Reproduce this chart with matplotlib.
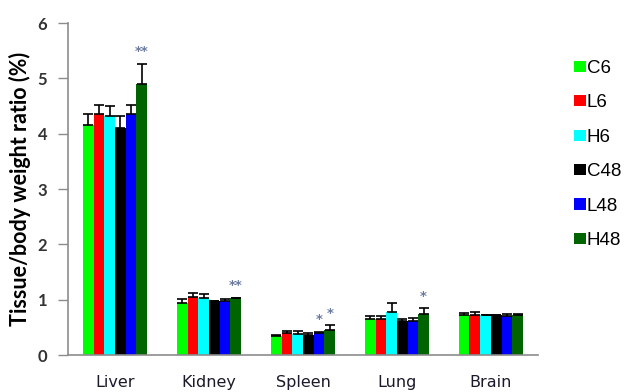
import numpy as np
import matplotlib
matplotlib.use("Agg")
import matplotlib.pyplot as plt
from matplotlib.patches import Patch

tissues = ["Liver", "Kidney", "Spleen", "Lung", "Brain"]
groups = ["C6", "L6", "H6", "C48", "L48", "H48"]
colors = ["#00ff00", "#ff0000", "#00ffff", "#000000", "#0000ff", "#006400"]

# mean tissue/body weight ratio (%) per group, one value per tissue
c6 = [4.16, 0.95, 0.35, 0.66, 0.73]
l6 = [4.35, 1.05, 0.40, 0.66, 0.73]
h6 = [4.33, 1.03, 0.38, 0.78, 0.72]
c48 = [4.10, 0.97, 0.36, 0.62, 0.72]
l48 = [4.35, 0.98, 0.40, 0.62, 0.71]
h48 = [4.90, 1.03, 0.45, 0.75, 0.73]

# standard deviations (upper bars only)
c6_sd = [0.20, 0.06, 0.02, 0.04, 0.04]
l6_sd = [0.17, 0.07, 0.03, 0.04, 0.05]
h6_sd = [0.17, 0.07, 0.06, 0.17, 0.01]
c48_sd = [0.23, 0.01, 0.04, 0.04, 0.01]
l48_sd = [0.17, 0.03, 0.02, 0.05, 0.03]
h48_sd = [0.37, 0.01, 0.09, 0.10, 0.02]

means = [c6, l6, h6, c48, l48, h48]
sds = [c6_sd, l6_sd, h6_sd, c48_sd, l48_sd, h48_sd]

# significance marks: (tissue index, group index, text)
stars = [(0, 5, "**"), (1, 5, "**"), (2, 4, "*"), (2, 5, "*"), (3, 5, "*")]

fig = plt.figure(figsize=(6.24, 3.92), dpi=100)
ax = fig.add_axes([0.109, 0.094, 0.753, 0.847])

x = np.arange(len(tissues))
w = 0.114
offsets = (np.arange(len(groups)) - 2.5) * w

for i, g in enumerate(groups):
    m = np.array(means[i])
    sd = np.array(sds[i])
    ax.bar(x + offsets[i], m, width=w, color=colors[i], label=g, zorder=2)
    ax.errorbar(x + offsets[i], m, yerr=[np.zeros_like(sd), sd], fmt="none",
                ecolor="black", elinewidth=1.2, capsize=3.5, capthick=1.2, zorder=3)

for t, g, s in stars:
    top = means[g][t] + sds[g][t]
    ax.text(x[t] + offsets[g], top + 0.1, s, ha="center", va="bottom",
            fontsize=9.5, fontweight="bold", color="#6a7ba0", family="DejaVu Sans")

ax.set_xlim(-0.5, len(tissues) - 0.5)
ax.set_ylim(0, 6)
ax.set_yticks(range(0, 7))
ax.set_xticks(x)
ax.set_xticklabels(tissues, fontsize=11.5, family="DejaVu Sans", color="#1a1a2a")
ax.tick_params(axis="x", length=0, pad=14)
ax.tick_params(axis="y", length=7, color="#8c8c8c", width=1, pad=8)
for lbl in ax.get_yticklabels():
    lbl.set_family("Lato")
    lbl.set_fontweight("bold")
    lbl.set_fontsize(12)
    lbl.set_color("#333333")
ax.set_ylabel("Tissue/body weight ratio (%)", family="Lato", fontweight="bold",
              fontsize=15.5, labelpad=5)

for side in ["top", "right"]:
    ax.spines[side].set_visible(False)
for side in ["left", "bottom"]:
    ax.spines[side].set_color("#8c8c8c")
    ax.spines[side].set_linewidth(1.2)

handles = [Patch(facecolor=c, edgecolor="none") for c in colors]
fig.legend(handles, groups, loc="upper left", bbox_to_anchor=(0.893, 0.89),
           frameon=False, handlelength=0.62, handleheight=0.55, handletextpad=0.05,
           labelspacing=0.93, prop={"family": "Liberation Sans", "size": 13.5})

fig.savefig("out.png", dpi=100)
